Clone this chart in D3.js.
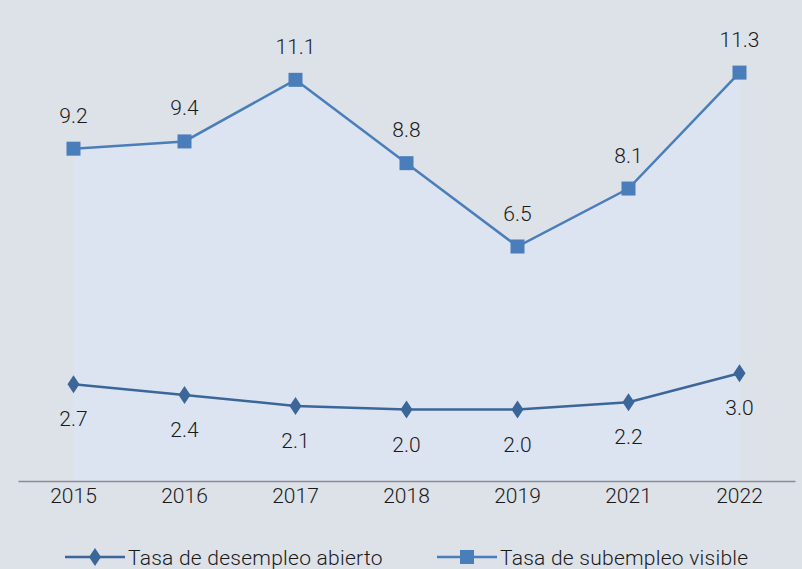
<!DOCTYPE html>
<html>
<head>
<meta charset="utf-8">
<script src="https://cdn.jsdelivr.net/npm/d3@7"></script>
<style>
  body { margin: 0; background: #dde1e8; }
  svg { display: block; font-family: Roboto, "Liberation Sans", sans-serif; font-weight: 300; }
</style>
</head>
<body>
<div id="chart"></div>
<script>
// data
const years = ['2015', '2016', '2017', '2018', '2019', '2021', '2022'];
const desempleo = [2.7, 2.4, 2.1, 2.0, 2.0, 2.2, 3.0];
const subempleo = [9.2, 9.4, 11.1, 8.8, 6.5, 8.1, 11.3];
const seriesNames = ['Tasa de desempleo abierto', 'Tasa de subempleo visible'];

const width = 802, height = 569;
const fontFam = 'Roboto, "Liberation Sans", sans-serif';
const fs = 21;

const svg = d3.select('#chart').append('svg')
    .attr('width', width)
    .attr('height', height);

svg.append('rect')
    .attr('width', width)
    .attr('height', height)
    .attr('fill', '#dde1e8');

const x = d3.scaleBand().domain(years).range([18, 795]);
const y = d3.scaleLinear().domain([0, 13]).range([482, 11]);
const cx = d => x(d) + x.bandwidth() / 2;

// area under subempleo
const area = d3.area()
    .x((d, i) => cx(years[i]))
    .y0(481)
    .y1(d => y(d));

svg.append('path')
    .datum(subempleo)
    .attr('d', area)
    .attr('fill', '#dde4f1');

// x axis
const xAxis = svg.append('g')
    .attr('transform', 'translate(0,481)')
    .call(d3.axisBottom(x).tickSize(0).tickPadding(7));
xAxis.select('.domain').attr('stroke', '#8a8d92').attr('stroke-width', 1.5);
xAxis.selectAll('text')
    .attr('font-size', fs)
    .attr('fill', '#1a1a1a')
    .attr('font-family', fontFam)
    .attr('font-weight', 300);

const line = d3.line()
    .x((d, i) => cx(years[i]))
    .y(d => y(d));

// subempleo line
svg.append('path')
    .datum(subempleo)
    .attr('d', line)
    .attr('fill', 'none')
    .attr('stroke', '#4a7ebb')
    .attr('stroke-width', 2.5);

svg.selectAll('.sq')
    .data(subempleo)
    .enter().append('rect')
    .attr('x', (d, i) => cx(years[i]) - 7)
    .attr('y', d => y(d) - 7)
    .attr('width', 14)
    .attr('height', 14)
    .attr('fill', '#4a7ebb');

svg.selectAll('.lblUp')
    .data(subempleo)
    .enter().append('text')
    .attr('x', (d, i) => cx(years[i]))
    .attr('y', d => y(d) - 26)
    .attr('text-anchor', 'middle')
    .attr('font-size', fs)
    .attr('fill', '#1a1a1a')
    .text(d => d.toFixed(1));

// desempleo line
svg.append('path')
    .datum(desempleo)
    .attr('d', line)
    .attr('fill', 'none')
    .attr('stroke', '#3b6699')
    .attr('stroke-width', 2.5);

const diamond = 'M0,-9 L6,0 L0,9 L-6,0 Z';

svg.selectAll('.dm')
    .data(desempleo)
    .enter().append('path')
    .attr('d', diamond)
    .attr('transform', (d, i) => 'translate(' + cx(years[i]) + ',' + y(d) + ')')
    .attr('fill', '#3b6699');

svg.selectAll('.lblDown')
    .data(desempleo)
    .enter().append('text')
    .attr('x', (d, i) => cx(years[i]))
    .attr('y', d => y(d) + 42)
    .attr('text-anchor', 'middle')
    .attr('font-size', fs)
    .attr('fill', '#1a1a1a')
    .text(d => d.toFixed(1));

// legend
const legend = svg.append('g');
const items = [
    {name: seriesNames[0], x: 65, color: '#3b6699', marker: 'diamond'},
    {name: seriesNames[1], x: 437, color: '#4a7ebb', marker: 'square'}
];
items.forEach(it => {
    const g = legend.append('g').attr('transform', 'translate(' + it.x + ',557)');
    g.append('line')
        .attr('x1', 0).attr('x2', 60)
        .attr('stroke', it.color)
        .attr('stroke-width', 2.5);
    if (it.marker === 'diamond') {
        g.append('path').attr('d', diamond)
            .attr('transform', 'translate(30,0)')
            .attr('fill', it.color);
    } else {
        g.append('rect')
            .attr('x', 23).attr('y', -7)
            .attr('width', 14).attr('height', 14)
            .attr('fill', it.color);
    }
    g.append('text')
        .attr('x', 63)
        .attr('y', 8)
        .attr('font-size', fs)
        .attr('letter-spacing', 0.25)
        .attr('fill', '#1a1a1a')
        .text(it.name);
});
</script>
</body>
</html>
